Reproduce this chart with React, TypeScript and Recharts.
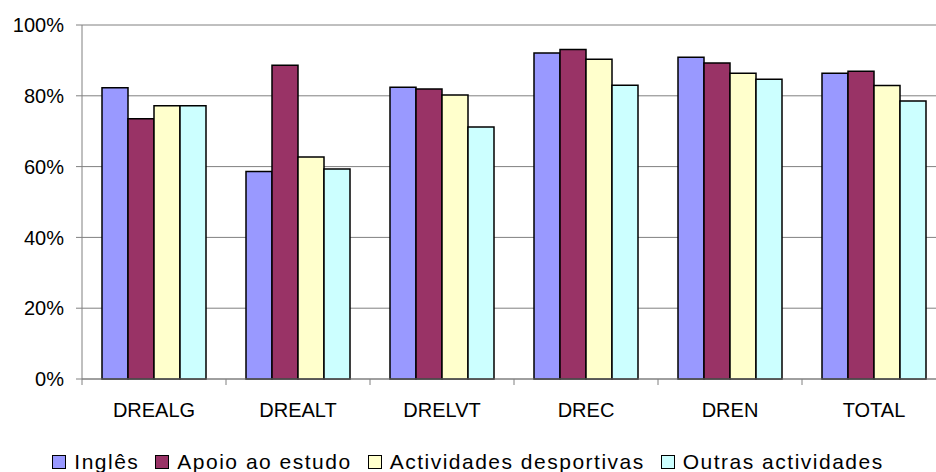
import React from "react"
import { Bar, BarChart, CartesianGrid, Legend, XAxis, YAxis } from "recharts"

// categorias e valores (fracção 0..1)
const categories = ["DREALG", "DREALT", "DRELVT", "DREC", "DREN", "TOTAL"]
const ingles = [0.823, 0.586, 0.824, 0.921, 0.909, 0.864]
const apoio = [0.735, 0.886, 0.819, 0.931, 0.893, 0.869]
const actividades = [0.772, 0.627, 0.802, 0.903, 0.864, 0.829]
const outras = [0.772, 0.593, 0.712, 0.83, 0.847, 0.785]
const yTicks = [0, 0.2, 0.4, 0.6, 0.8, 1]

const seriesInfo = [
  { key: "ingles", name: "Inglês", color: "#9999FF" },
  { key: "apoio", name: "Apoio ao estudo", color: "#993366" },
  { key: "actividades", name: "Actividades desportivas", color: "#FFFFCC" },
  { key: "outras", name: "Outras actividades", color: "#CCFFFF" },
]

const data = categories.map((c, i) => ({
  name: c,
  ingles: ingles[i],
  apoio: apoio[i],
  actividades: actividades[i],
  outras: outras[i],
}))

const CHART_W = 950
const CHART_H = 472
const Y_W = 82
const M_RIGHT = 4
const BAND = (CHART_W - Y_W - M_RIGHT) / categories.length
const FONT = "'Liberation Sans', Arial, sans-serif"

function CategoryTick(props: any) {
  const { x, y, payload } = props
  const left = x - BAND / 2
  return (
    <g>
      <line x1={left} y1={y} x2={left} y2={y + 6} stroke="#808080" strokeWidth={1} />
      <text x={x} y={y + 38} textAnchor="middle" fill="#000" fontSize={20} fontFamily={FONT}>
        {payload.value}
      </text>
    </g>
  )
}

function LegendBox() {
  return (
    <div
      style={{
        height: 30,
        width: 936,
        display: "flex",
        justifyContent: "center",
        alignItems: "center",
        fontFamily: FONT,
        fontSize: 21,
        lineHeight: "30px",
        letterSpacing: 1.5,
        color: "#000",
      }}
    >
      {seriesInfo.map((s, i) => (
        <div key={s.key} style={{ display: "flex", alignItems: "center", marginLeft: i === 0 ? 0 : 16 }}>
          <span
            style={{
              width: 12,
              height: 12,
              background: s.color,
              border: "1.5px solid #000",
              display: "inline-block",
              marginRight: 8,
            }}
          />
          <span>{s.name}</span>
        </div>
      ))}
    </div>
  )
}

export default function App() {
  return (
    <div style={{ position: "fixed", left: 0, top: 0, width: 936, height: 472, overflow: "hidden", background: "#fff" }}>
      <BarChart
        width={CHART_W}
        height={CHART_H}
        data={data}
        margin={{ top: 25, right: M_RIGHT, bottom: 13, left: 0 }}
        barCategoryGap={20}
        barGap={0}
      >
        <CartesianGrid vertical={false} stroke="#808080" strokeWidth={1} />
        <XAxis
          dataKey="name"
          interval={0}
          height={50}
          axisLine={{ stroke: "#808080", strokeWidth: 1 }}
          tickLine={false}
          tickSize={0}
          tickMargin={0}
          tick={(p: any) => <CategoryTick {...p} />}
        />
        <YAxis
          width={Y_W}
          domain={[0, 1]}
          ticks={yTicks}
          interval={0}
          tickFormatter={(v: number) => `${Math.round(v * 100)}%`}
          axisLine={{ stroke: "#808080", strokeWidth: 1 }}
          tickLine={{ stroke: "#808080", strokeWidth: 1 }}
          tickSize={6}
          tickMargin={12}
          tick={{ fill: "#000", fontSize: 20, fontFamily: FONT }}
        />
        <Legend
          verticalAlign="bottom"
          wrapperStyle={{ left: 0, top: 447, width: 936 }}
          content={() => <LegendBox />}
        />
        {seriesInfo.map((s) => (
          <Bar
            key={s.key}
            dataKey={s.key}
            name={s.name}
            fill={s.color}
            stroke="#000"
            strokeWidth={1.5}
            isAnimationActive={false}
          />
        ))}
      </BarChart>
    </div>
  )
}
